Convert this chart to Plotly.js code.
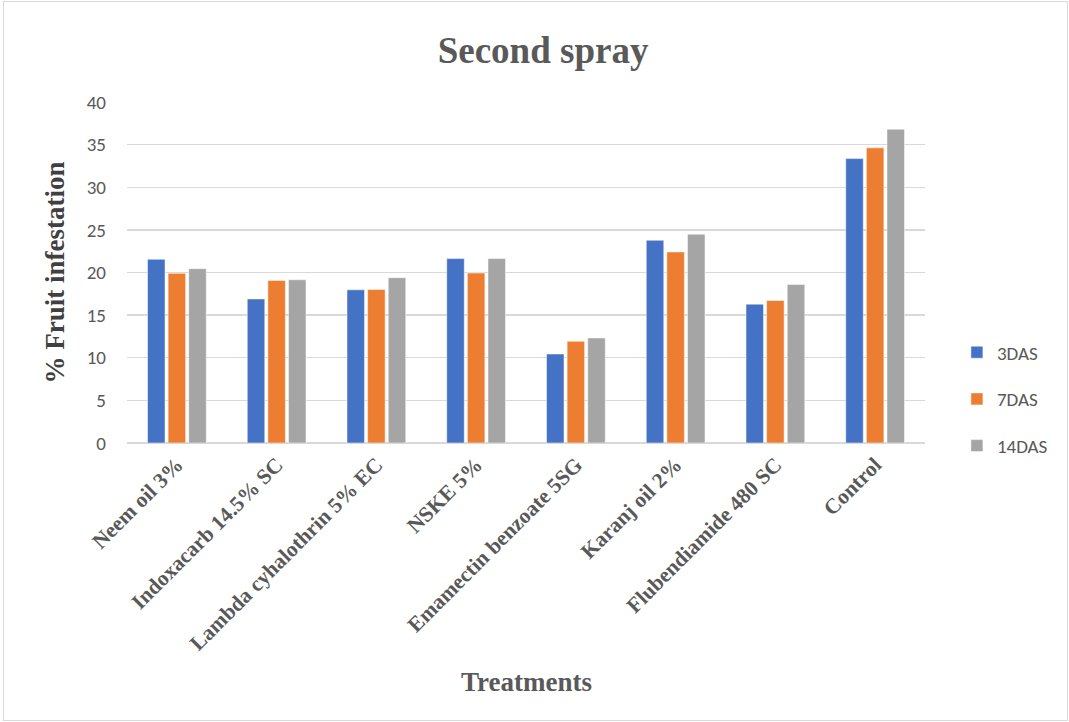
<!DOCTYPE html>
<html><head><meta charset="utf-8">
<script src="https://cdn.plot.ly/plotly-3.0.1.min.js"></script>
<style>html,body{margin:0;padding:0;background:#fff}#wrap{position:absolute;left:3px;top:1px;width:1063px;height:718px;border:1px solid #d9d9d9}#chart{position:absolute;left:0;top:0;width:1069px;height:722px}</style>
</head><body><div id="wrap"></div><div id="chart"></div>
<script>
const categories = ["Neem oil 3%", "Indoxacarb 14.5% SC", "Lambda cyhalothrin 5% EC", "NSKE 5%", "Emamectin benzoate 5SG", "Karanj oil 2%", "Flubendiamide 480 SC", "Control"];
const das3 = [21.55, 16.9, 17.97, 21.63, 10.44, 23.78, 16.29, 33.36];
const das7 = [19.9, 19.07, 18.01, 19.94, 11.93, 22.41, 16.72, 34.62];
const das14 = [20.45, 19.15, 19.39, 21.63, 12.32, 24.49, 18.6, 36.81];
const seriesNames = ["3DAS", "7DAS", "14DAS"];
const colors = ["#4472c4", "#ed7d31", "#a5a5a5"];
const yTicks = [0, 5, 10, 15, 20, 25, 30, 35, 40];

const serif = "Liberation Serif, Times New Roman, serif";
const sans = "Carlito, Liberation Sans, Arial, sans-serif";
const traces = [das3, das7, das14].map((v, i) => ({
  type: "bar", x: categories, y: v, name: seriesNames[i],
  marker: {color: colors[i], line: {color: "#ffffff", width: 0.5}},
  legendgroup: "g" + i
}));
const layout = {
  width: 1069, height: 722,
  paper_bgcolor: "rgba(0,0,0,0)", plot_bgcolor: "#fff",
  margin: {l: 127, r: 144, t: 102, b: 279},
  barmode: "group", bargap: 0.38, bargroupgap: 0.15,
  title: {text: "<b>Second spray</b>", x: 0.508, xanchor: "center", y: 0.93, yanchor: "middle",
    font: {family: serif, size: 37, color: "#595959"}},
  xaxis: {tickangle: -45, tickfont: {family: serif, size: 21.5, color: "#595959", weight: "bold"},
    showgrid: false, showline: false, ticks: "", automargin: false, ticklabelstandoff: 4},
  yaxis: {range: [0, 40], tickvals: yTicks, ticktext: yTicks.map(String),
    tickfont: {family: sans, size: 19, color: "#595959"},
    gridcolor: "#d9d9d9", gridwidth: 1.3, zeroline: true, zerolinecolor: "#d9d9d9", zerolinewidth: 1.3,
    showline: false, ticks: "", ticklabelstandoff: 20, automargin: false,
    title: {text: "<b>% Fruit infestation</b>", font: {family: serif, size: 27, color: "#404040"}, standoff: 14}},
  annotations: [{text: "<b>Treatments</b>", xref: "paper", yref: "paper", x: 0.5, y: (443 - 682) / 341,
    xanchor: "center", yanchor: "middle", showarrow: false, font: {family: serif, size: 27, color: "#595959"}}],
  legend: {x: 1.04, xanchor: "left", y: 0.128, yanchor: "middle", font: {family: sans, size: 19, color: "#595959"},
    tracegroupgap: 19, itemwidth: 30, bgcolor: "rgba(0,0,0,0)"},
  font: {family: sans}
};
Plotly.newPlot("chart", traces, layout, {displayModeBar: false, staticPlot: true});
</script>
</body></html>
